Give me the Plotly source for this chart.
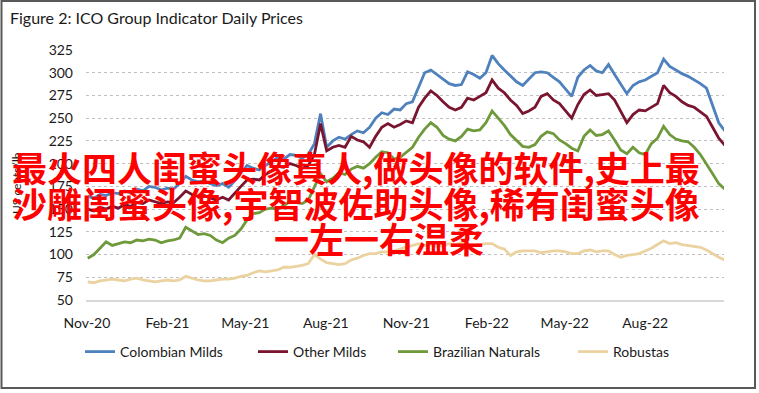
import pandas as pd
import plotly.graph_objects as go

# weekly observation dates (Mondays), Nov-2020 .. Oct-2022
dates = pd.date_range("2020-11-02", periods=105, freq="7D")

colombian_milds = [
    164, 162, 166, 165, 168, 167, 170, 168, 172, 170,
    175, 174, 171, 173, 172, 178, 186, 182, 180, 181,
    178, 176, 178, 174, 181, 190, 198, 195, 193, 198,
    202, 207, 205, 210, 209, 206, 210, 222, 255, 218,
    225, 229, 227, 232, 236, 234, 240, 250, 256, 254,
    260, 259, 266, 268, 285, 300, 303, 298, 292, 288,
    286, 287, 301, 298, 294, 300, 319, 310, 303, 296,
    290, 286, 293, 300, 301, 300, 295, 290, 282, 274,
    295, 303, 308, 302, 300, 309, 298, 287, 277, 286,
    290, 292, 296, 300, 315, 307, 303, 299, 296, 292,
    288, 283, 265, 245, 236,
]
other_milds = [
    150, 148, 152, 150, 153, 151, 155, 153, 157, 156,
    160, 158, 156, 158, 157, 163, 170, 166, 164, 165,
    162, 160, 163, 160, 168, 175, 182, 183, 182, 188,
    192, 197, 196, 200, 198, 195, 198, 210, 244, 214,
    218, 220, 218, 230, 226, 224, 218, 230, 240, 244,
    240, 243, 247, 245, 262, 272, 280, 275, 268, 262,
    259, 262, 272, 270, 274, 278, 292, 283, 278, 270,
    264, 255, 258, 262, 274, 277, 270, 266, 258, 250,
    265, 276, 281, 275, 276, 277, 270, 258, 245, 254,
    259, 258, 262, 266, 286, 278, 274, 268, 264, 262,
    257, 252, 240, 228, 220,
]
brazilian_naturals = [
    96, 100, 107, 114, 110, 112, 114, 113, 116, 115,
    117, 116, 113, 115, 116, 118, 130, 126, 122, 123,
    121, 116, 113, 118, 121, 128, 138, 145, 146, 150,
    151, 150, 154, 158, 157, 156, 160, 175, 189, 180,
    184, 190, 188, 194, 197, 195, 200, 207, 213, 212,
    205, 207, 212, 218, 229, 238, 245, 240, 231, 227,
    225, 230, 238, 236, 237, 245, 258, 250, 242, 232,
    226, 219, 218, 221, 230, 235, 233, 226, 222, 217,
    214, 230, 237, 231, 232, 236, 226, 215, 211, 218,
    212, 210, 222, 228, 241, 232, 227, 225, 224, 218,
    210, 200, 189, 178, 172,
]
robustas = [
    70, 69, 71, 72, 73, 72, 71, 73, 74, 72,
    71, 70, 71, 72, 71, 72, 76, 74, 72, 71,
    71, 72, 73, 73, 74, 76, 77, 80, 82, 81,
    82, 83, 86, 86, 87, 88, 90, 100, 95, 91,
    90, 89, 90, 94, 96, 99, 101, 101, 103, 103,
    104, 106, 108, 110, 112, 110, 111, 109, 110, 112,
    111, 113, 111, 110, 111, 112, 112, 108, 106, 99,
    103, 104, 104, 104, 102, 103, 104, 104, 103, 101,
    101, 104, 105, 103, 104, 104, 100, 97, 99, 100,
    101, 104, 107, 111, 115, 112, 113, 111, 110, 109,
    108, 105, 101, 97, 94,
]

series_names = ["Colombian Milds", "Other Milds", "Brazilian Naturals", "Robustas"]
series_values = [colombian_milds, other_milds, brazilian_naturals, robustas]
series_colors = ["#4F81BD", "#7A1530", "#6E9A3C", "#EAD3A0"]

x_tick_vals = ["2020-11-01", "2021-02-01", "2021-05-01", "2021-08-01",
               "2021-11-01", "2022-02-01", "2022-05-01", "2022-08-01"]
x_tick_text = ["Nov-20", "Feb-21", "May-21", "Aug-21", "Nov-21", "Feb-22", "May-22", "Aug-22"]
y_tick_vals = [50, 75, 100, 125, 150, 175, 200, 225, 250, 275, 300, 325]

title_text = "Figure 2: ICO Group Indicator Daily Prices"
y_title = "US cents/lb"
overlay_lines = ["最火四人闺蜜头像真人,做头像的软件,史上最",
                 "沙雕闺蜜头像,宇智波佐助头像,稀有闺蜜头像",
                 "一左一右温柔"]

W, H = 759, 393
L, R, T, B = 86, 35, 50, 93
pw, ph = W - L - R, H - T - B

def px_to_paper_x(px):
    return (px - L) / pw

def px_to_paper_y(py):
    return (H - B - py) / ph

legend_ids = ["legend", "legend2", "legend3", "legend4"]
legend_left_px = [80, 253, 393, 573]

fig = go.Figure()
for name, vals, col, lid in zip(series_names, series_values, series_colors, legend_ids):
    fig.add_trace(go.Scatter(x=dates, y=vals, name=name, mode="lines", legend=lid,
                             line=dict(color=col, width=2.8)))

font_family = "Lato, 'Open Sans', sans-serif"
fig.update_layout(
    width=W, height=H,
    margin=dict(l=L, r=R, t=T, b=B, autoexpand=False),
    paper_bgcolor="white", plot_bgcolor="white",
    font=dict(family=font_family, size=13, color="#1a1a1a"),
    showlegend=True,
    xaxis=dict(type="date", range=["2020-10-31", "2022-10-30"],
               tickvals=x_tick_vals, ticktext=x_tick_text, tickangle=0,
               showgrid=False, zeroline=False,
               showline=True, linecolor="#D9D9D9", linewidth=1.5,
               ticks="", ticklabelstandoff=9,
               tickfont=dict(size=14, color="#1a1a1a")),
    yaxis=dict(range=[50, 325], tickvals=y_tick_vals,
               showgrid=True, gridcolor="#BFBFBF", griddash="dot", gridwidth=1,
               zeroline=False, showline=False, ticks="", ticklabelstandoff=12,
               tickfont=dict(size=14, color="#1a1a1a")),
)
for lid, lx in zip(legend_ids, legend_left_px):
    fig.update_layout({lid: dict(orientation="h", x=px_to_paper_x(lx), xanchor="left",
                                 y=px_to_paper_y(352), yanchor="middle",
                                 font=dict(size=14, color="#1a1a1a"), itemwidth=30,
                                 bgcolor="rgba(0,0,0,0)")})

# title
fig.add_annotation(text=title_text, xref="paper", yref="paper",
                   x=px_to_paper_x(8), y=px_to_paper_y(17), xanchor="left", yanchor="middle",
                   showarrow=False, font=dict(size=16, color="#1a1a1a", family=font_family))
# y axis title
fig.add_annotation(text=y_title, xref="paper", yref="paper",
                   x=px_to_paper_x(16), y=px_to_paper_y(183), xanchor="center", yanchor="middle",
                   textangle=-90, showarrow=False,
                   font=dict(size=12, color="#1a1a1a", family=font_family))

# outer frame
fig.add_shape(type="rect", xref="paper", yref="paper",
              x0=px_to_paper_x(1.5), x1=px_to_paper_x(755),
              y0=px_to_paper_y(388), y1=px_to_paper_y(1),
              line=dict(color="#595959", width=2), fillcolor="rgba(0,0,0,0)", layer="above")

# red overlay text
cjk = "'Noto Sans CJK SC', sans-serif"
for txt, xpx, anchor, ypx in [(overlay_lines[0], 10, "left", 166),
                              (overlay_lines[1], 10, "left", 202),
                              (overlay_lines[2], 379, "center", 237)]:
    fig.add_annotation(text="<b>" + txt + "</b>", xref="paper", yref="paper",
                       x=px_to_paper_x(xpx), y=px_to_paper_y(ypx),
                       xanchor=anchor, yanchor="middle", showarrow=False,
                       font=dict(size=35, color="#FF0000", family=cjk))

fig.write_html("out.html", config={"displayModeBar": False},
               post_script="document.body.style.margin='0';")
